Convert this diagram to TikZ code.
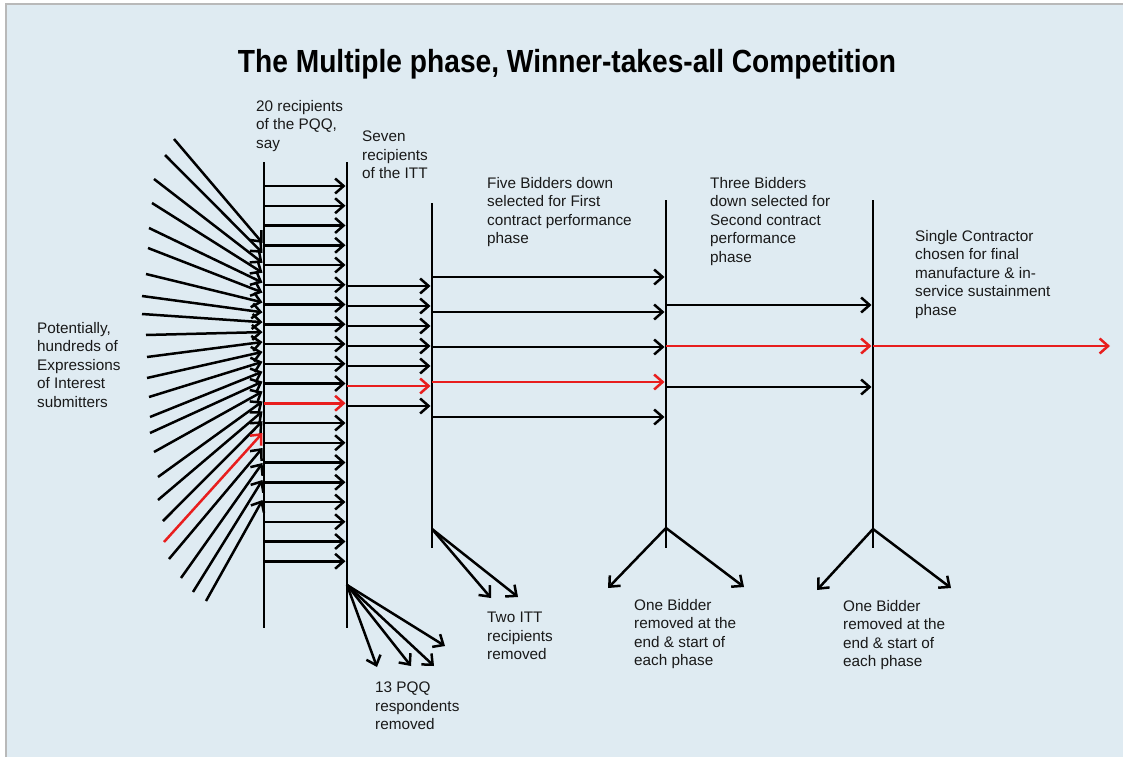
\documentclass[tikz,border=0pt]{standalone}
\usepackage{fontspec}
\usepackage{graphicx}
\setmainfont{Liberation Sans}
\usetikzlibrary{arrows.meta}
\definecolor{bg}{RGB}{223,235,242}
\definecolor{wred}{RGB}{232,30,30}
\definecolor{framegray}{RGB}{185,185,185}
\definecolor{ink}{RGB}{25,25,25}
\tikzset{
  arr/.style={line width=2.5pt, draw=black, -{Straight Barb[length=8.5pt,width=15pt]}},
  redarr/.style={arr, draw=wred},
  bar/.style={line width=2.7pt, draw=black},
  lbl/.style={font=\fontsize{15.3}{18.5}\selectfont, text=ink, align=left, inner sep=0pt, anchor=north west},
}
\begin{document}
\begin{tikzpicture}[x=1pt,y=-1pt]
\useasboundingbox (0,0) rectangle (1123,757);
% background and frame
\fill[white] (0,0) rectangle (1123,757);
\fill[bg] (6,4) rectangle (1123,757);
\draw[framegray, line width=2pt] (6,757) -- (6,4) -- (1123,4);

% title
\node[anchor=base, inner sep=0pt] (title) at (567,73)
  {\resizebox{658pt}{\height}{\bfseries\fontsize{32}{34}\selectfont The Multiple phase, Winner-takes-all Competition}};

% vertical bars
\coordinate (b1t) at (264,162); \coordinate (b1b) at (264,628);
\coordinate (b2t) at (347,162); \coordinate (b2b) at (347,628);
\coordinate (b3t) at (432,203); \coordinate (b3b) at (432,548);
\coordinate (b4t) at (666,200); \coordinate (b4b) at (666,548);
\coordinate (b5t) at (873,200); \coordinate (b5b) at (873,548);
\draw[bar] (b1t) -- (b1b);
\draw[bar] (b2t) -- (b2b);
\draw[bar] (b3t) -- (b3b);
\draw[bar] (b4t) -- (b4b);
\draw[bar] (b5t) -- (b5b);

% fan of expressions of interest
\foreach \sx/\sy/\ey [count=\i] in {
  174/139/243, 165/155/252.9, 154/179/262.8, 152/203/272.7, 149/228/282.6,
  148/248/292.5, 146/274/302.4, 142/296/312.3, 142/314/322.2, 146/335/332.1,
  147/357/342, 147/378/351.9, 149/397/361.8, 150/417/371.7, 150/433/381.6,
  154/452/391.5, 158/477/401.4, 158/500/411.3, 163/521/421.2,
  169/559/448, 181/578/463, 193/592/480, 206/601/500}{
  \coordinate (fs\i) at (\sx,\sy);
  \coordinate (fe\i) at (262.5,\ey);
  \draw[arr] (fs\i) -- (fe\i);
}
\coordinate (fsr) at (164,542); \coordinate (fer) at (262.5,433);
\draw[redarr] (fsr) -- (fer);

% PQQ recipients (20)
\foreach \i in {0,...,19}{
  \pgfmathsetmacro{\yy}{186+19.75*\i}
  \coordinate (pa\i) at (264,\yy);
  \coordinate (pb\i) at (345.5,\yy);
  \ifnum\i=11
    \draw[redarr] (pa\i) -- (pb\i);
  \else
    \draw[arr] (pa\i) -- (pb\i);
  \fi
}

% ITT recipients (7)
\foreach \i in {0,...,6}{
  \pgfmathsetmacro{\yy}{286+20*\i}
  \coordinate (ia\i) at (347,\yy);
  \coordinate (ib\i) at (430.5,\yy);
  \ifnum\i=5
    \draw[redarr] (ia\i) -- (ib\i);
  \else
    \draw[arr] (ia\i) -- (ib\i);
  \fi
}

% First contract phase (5)
\foreach \i in {0,...,4}{
  \pgfmathsetmacro{\yy}{277+35*\i}
  \coordinate (ca\i) at (432,\yy);
  \coordinate (cb\i) at (664.5,\yy);
  \ifnum\i=3
    \draw[redarr] (ca\i) -- (cb\i);
  \else
    \draw[arr] (ca\i) -- (cb\i);
  \fi
}

% Second contract phase (3)
\foreach \i in {0,...,2}{
  \pgfmathsetmacro{\yy}{305+41*\i}
  \coordinate (da\i) at (666,\yy);
  \coordinate (db\i) at (871.5,\yy);
  \ifnum\i=1
    \draw[redarr] (da\i) -- (db\i);
  \else
    \draw[arr] (da\i) -- (db\i);
  \fi
}

% final single contractor
\coordinate (ea) at (873,346); \coordinate (eb) at (1110,346);
\draw[redarr] (ea) -- (eb);

% removals
\coordinate (r1) at (347,585);
\coordinate (r1a) at (377,667); \coordinate (r1b) at (411,666);
\coordinate (r1c) at (434,666); \coordinate (r1d) at (445,646);
\draw[arr] (r1) -- (r1a);
\draw[arr] (r1) -- (r1b);
\draw[arr] (r1) -- (r1c);
\draw[arr] (r1) -- (r1d);

\coordinate (r2) at (432,529);
\coordinate (r2a) at (491,598); \coordinate (r2b) at (518,597);
\draw[arr] (r2) -- (r2a);
\draw[arr] (r2) -- (r2b);

\coordinate (r3) at (666,528);
\coordinate (r3a) at (608,588); \coordinate (r3b) at (744,587);
\draw[arr] (r3) -- (r3a);
\draw[arr] (r3) -- (r3b);

\coordinate (r4) at (873,529);
\coordinate (r4a) at (817,590); \coordinate (r4b) at (951,588);
\draw[arr] (r4) -- (r4a);
\draw[arr] (r4) -- (r4b);

% labels
\node[lbl] (t20) at (256,100) {20 recipients\\of the PQQ,\\say};
\node[lbl] (tseven) at (362,131) {Seven\\recipients\\of the ITT};
\node[lbl] (tfive) at (487,177) {Five Bidders down\\selected for First\\contract performance\\phase};
\node[lbl] (tthree) at (710,177) {Three Bidders\\down selected for\\Second contract\\performance\\phase};
\node[lbl] (tsingle) at (915,230) {Single Contractor\\chosen for final\\manufacture \& in-\\service sustainment\\phase};
\node[lbl] (tpot) at (37,322) {Potentially,\\hundreds of\\Expressions\\of Interest\\submitters};
\node[lbl] (t13) at (375,682) {13 PQQ\\respondents\\removed};
\node[lbl] (ttwo) at (487,612) {Two ITT\\recipients\\removed};
\node[lbl] (tone1) at (634,599) {One Bidder\\removed at the\\end \& start of\\each phase};
\node[lbl] (tone2) at (843,600) {One Bidder\\removed at the\\end \& start of\\each phase};
\end{tikzpicture}
\end{document}
